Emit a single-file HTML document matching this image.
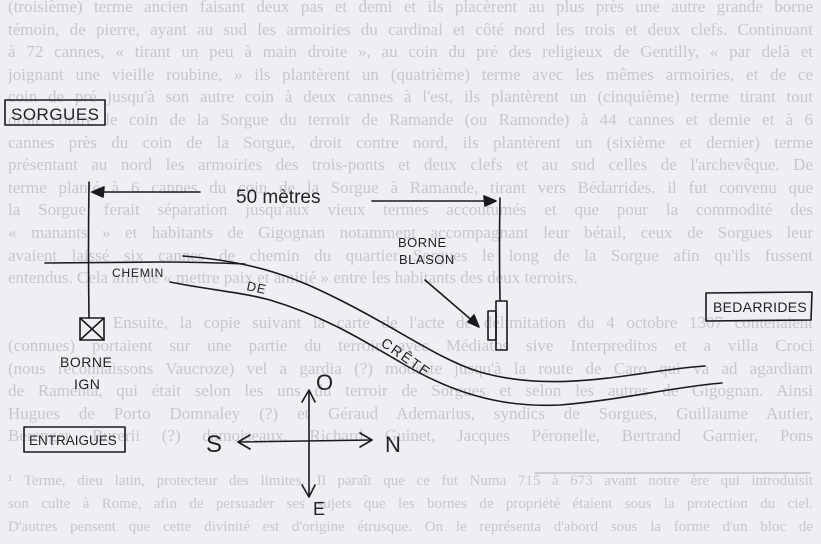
<!DOCTYPE html>
<html><head><meta charset="utf-8"><style>
html,body{margin:0;padding:0;}
body{width:821px;height:544px;overflow:hidden;background:#eeeff3;position:relative;}
.bg{position:absolute;left:0;top:0;width:821px;font-family:"Liberation Serif",serif;font-size:17px;line-height:22.6px;color:#c6c7ce;padding:0 8px;box-sizing:border-box;}
.bg div{white-space:nowrap;overflow:hidden;text-align:justify;text-align-last:justify;height:22.6px;}
.bg div.n{text-align-last:left;}
svg{position:absolute;left:0;top:0;}
.h{font-family:"Liberation Sans",sans-serif;fill:#222;}
</style></head><body>
<div class="bg" style="top:-4px">
<div>(troisième) terme ancien faisant deux pas et demi et ils placèrent au plus près une autre grande borne</div>
<div>témoin, de pierre, ayant au sud les armoiries du cardinal et côté nord les trois et deux clefs. Continuant</div>
<div>à 72 cannes, « tirant un peu à main droite », au coin du pré des religieux de Gentilly, « par delà et</div>
<div>joignant une vieille roubine, » ils plantèrent un (quatrième) terme avec les mêmes armoiries, et de ce</div>
<div>coin de pré jusqu'à son autre coin à deux cannes à l'est, ils plantèrent un (cinquième) terme tirant tout</div>
<div>droit contre le coin de la Sorgue du terroir de Ramande (ou Ramonde) à 44 cannes et demie et à 6</div>
<div>cannes près du coin de la Sorgue, droit contre nord, ils plantèrent un (sixième et dernier) terme</div>
<div>présentant au nord les armoiries des trois-ponts et deux clefs et au sud celles de l'archevêque. De</div>
<div>terme planté à 6 cannes du coin de la Sorgue à Ramande, tirant vers Bédarrides, il fut convenu que</div>
<div>la Sorgue ferait séparation jusqu'aux vieux termes accoutumés et que pour la commodité des</div>
<div>« manants » et habitants de Gigognan notamment accompagnant leur bétail, ceux de Sorgues leur</div>
<div>avaient laissé six cannes de chemin du quartier Sorgues le long de la Sorgue afin qu'ils fussent</div>
<div class="n">entendus. Cela afin de « mettre paix et amitié » entre les habitants des deux terroirs.</div>
<div class="n">&nbsp;</div>
<div>&nbsp;&nbsp;&nbsp;&nbsp;&nbsp;&nbsp;&nbsp;&nbsp;&nbsp;Ensuite, la copie suivant la carte de l'acte de délimitation du 4 octobre 1307 contenaient</div>
<div>(connues) portaient sur une partie du terroir avec Médiatos sive Interpreditos et a villa Croci</div>
<div>(nous reconnaissons Vaucroze) vel a gardia (?) modeste jusqu'à la route de Caro qui va ad agardiam</div>
<div>de Ramenta, qui était selon les uns du terroir de Sorgues et selon les autres de Gigognan. Ainsi</div>
<div>Hugues de Porto Domnaley (?) et Géraud Ademarius, syndics de Sorgues, Guillaume Autier,</div>
<div>Bérenger Burerii (?) damoiseaux, Richard Guinet, Jacques Péronelle, Bertrand Garnier, Pons</div>
<div class="n">&nbsp;</div>
<div style="font-size:15px">¹ Terme, dieu latin, protecteur des limites. Il paraît que ce fut Numa 715 à 673 avant notre ère qui introduisit</div>
<div style="font-size:15px">son culte à Rome, afin de persuader ses sujets que les bornes de propriété étaient sous la protection du ciel.</div>
<div style="font-size:15px">D'autres pensent que cette divinité est d'origine étrusque. On le représenta d'abord sous la forme d'un bloc de</div>
</div>
<svg width="821" height="544" viewBox="0 0 821 544" fill="none" stroke="#1a1a1a" stroke-width="1.6" stroke-linecap="round" stroke-linejoin="round">
<line x1="535" y1="473" x2="810" y2="473" stroke="#aaa" stroke-width="1"/>
<rect x="5" y="100" width="100" height="25"/>
<text class="h" x="11" y="120" font-size="17" letter-spacing="0.5" stroke="none">SORGUES</text>
<path d="M89 182 Q88 250 89 318"/>
<path d="M45 263 L160 262 Q200 262 245 264"/>
<line x1="200" y1="192" x2="96" y2="192"/>
<path d="M92 192 L104 187 L103 197 Z" fill="#1a1a1a"/>
<text class="h" x="236" y="203" font-size="19" stroke="none">50 mètres</text>
<line x1="372" y1="201" x2="490" y2="201"/>
<path d="M496 201 L484 196 L485 206 Z" fill="#1a1a1a"/>
<path d="M500 198 Q499 250 500 300"/>
<text class="h" x="112" y="277" font-size="12" letter-spacing="0.8" stroke="none">CHEMIN</text>
<rect x="80" y="318" width="24" height="22"/>
<line x1="80" y1="318" x2="104" y2="340"/><line x1="104" y1="318" x2="80" y2="340"/>
<text class="h" x="60" y="367" font-size="14" letter-spacing="0.5" stroke="none">BORNE</text>
<text class="h" x="74" y="389" font-size="14" letter-spacing="0.5" stroke="none">IGN</text>
<path d="M183 256 C260 262 300 280 340 300 C400 330 440 360 480 372 C560 395 640 370 705 366"/>
<path d="M170 282 C210 290 240 292 270 300 C330 318 370 345 400 362 C450 392 500 408 560 405 C620 400 680 386 722 383"/>
<text class="h" x="0" y="0" font-size="13" stroke="none" transform="translate(246 290) rotate(12)" letter-spacing="1">DE</text>
<text class="h" x="0" y="0" font-size="14" stroke="none" transform="translate(380 345) rotate(35)" letter-spacing="2">CRÊTE</text>
<text class="h" x="398" y="247" font-size="13" letter-spacing="0.5" stroke="none">BORNE</text>
<text class="h" x="399" y="264" font-size="13" letter-spacing="0.5" stroke="none">BLASON</text>
<line x1="425" y1="280" x2="475" y2="323"/>
<path d="M479 327 L468 322 L474 315 Z" fill="#1a1a1a"/>
<rect x="496" y="301" width="11" height="49"/>
<rect x="488" y="311" width="8" height="29"/>
<path d="M706 293 L812 292 L811 320 L706 321 Z"/>
<text class="h" x="713" y="312" font-size="14" letter-spacing="0.3" stroke="none">BEDARRIDES</text>
<rect x="24" y="427" width="101" height="25"/>
<text class="h" x="29" y="445" font-size="13.5" letter-spacing="0" stroke="none">ENTRAIGUES</text>
<line x1="309" y1="392" x2="309" y2="495"/>
<path d="M302 402 L309 390 L315 402"/>
<path d="M302 485 L309 497 L315 485"/>
<line x1="238" y1="442" x2="372" y2="440"/>
<path d="M250 435 L238 442 L250 449"/>
<path d="M360 433 L372 440 L360 447"/>
<text class="h" x="316" y="390" font-size="22" stroke="none">O</text>
<text class="h" x="206" y="452" font-size="24" stroke="none">S</text>
<text class="h" x="385" y="452" font-size="22" stroke="none">N</text>
<text class="h" x="313" y="515" font-size="18" stroke="none">E</text>
</svg>
</body></html>
